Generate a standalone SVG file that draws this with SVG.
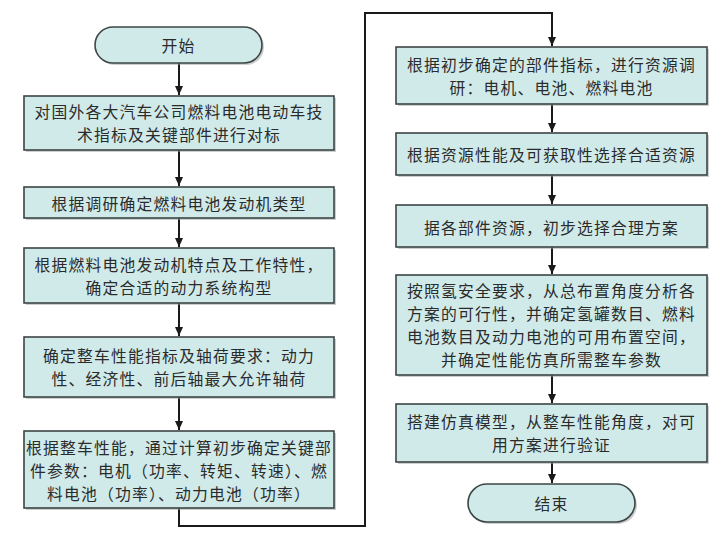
<svg xmlns="http://www.w3.org/2000/svg" width="720" height="538" viewBox="0 0 720 538">
<defs>
<marker id="ah" markerWidth="10" markerHeight="10" refX="9" refY="5" orient="auto" markerUnits="userSpaceOnUse">
<path d="M0,1 L9,5 L0,9 Z" fill="#1a1a1a"/>
</marker>
<style>
.box{fill:#d0eaea;stroke:#3d4545;stroke-width:1.6}
.sh{fill:#9aa0a0;opacity:0.5}
.t{font-family:"Noto Sans CJK SC","Noto Sans",sans-serif;font-size:15.8px;fill:#2b2b2b;text-anchor:middle;dominant-baseline:central;letter-spacing:1.2px}
.c{fill:none;stroke:#1a1a1a;stroke-width:2}
</style>
</defs>
<rect width="720" height="538" fill="#ffffff"/>
<g id="connectors">
<line class="c" x1="179" y1="63" x2="179" y2="95" marker-end="url(#ah)"/>
<line class="c" x1="179" y1="150" x2="179" y2="186" marker-end="url(#ah)"/>
<line class="c" x1="179" y1="218" x2="179" y2="247" marker-end="url(#ah)"/>
<line class="c" x1="179" y1="303" x2="179" y2="336" marker-end="url(#ah)"/>
<line class="c" x1="179" y1="397" x2="179" y2="430" marker-end="url(#ah)"/>
<polyline class="c" points="179,508 179,526 365,526 365,13 552,13 552,46" marker-end="url(#ah)"/>
<line class="c" x1="552" y1="104" x2="552" y2="132" marker-end="url(#ah)"/>
<line class="c" x1="552" y1="175" x2="552" y2="204" marker-end="url(#ah)"/>
<line class="c" x1="552" y1="247" x2="552" y2="274" marker-end="url(#ah)"/>
<line class="c" x1="552" y1="375" x2="552" y2="403" marker-end="url(#ah)"/>
<line class="c" x1="552" y1="462" x2="552" y2="483" marker-end="url(#ah)"/>
</g>
<g id="start">
<rect class="sh" x="97" y="29" width="167" height="36" rx="18"/>
<rect class="box" x="95" y="27" width="167" height="36" rx="18"/>
<text class="t" x="178.5" y="45">开始</text>
</g>
<g id="n1">
<rect class="sh" x="26" y="98" width="310" height="54"/>
<rect class="box" x="24" y="96" width="310" height="54"/>
<text class="t" x="179" y="111.5">对国外各大汽车公司燃料电池电动车技</text>
<text class="t" x="179" y="134.5">术指标及关键部件进行对标</text>
</g>
<g id="n2">
<rect class="sh" x="26" y="189" width="310" height="31"/>
<rect class="box" x="24" y="187" width="310" height="31"/>
<text class="t" x="179" y="203">根据调研确定燃料电池发动机类型</text>
</g>
<g id="n3">
<rect class="sh" x="26" y="250" width="310" height="55"/>
<rect class="box" x="24" y="248" width="310" height="55"/>
<text class="t" x="179" y="264">根据燃料电池发动机特点及工作特性，</text>
<text class="t" x="179" y="287">确定合适的动力系统构型</text>
</g>
<g id="n4">
<rect class="sh" x="26" y="339" width="310" height="60"/>
<rect class="box" x="24" y="337" width="310" height="60"/>
<text class="t" x="179" y="355.5">确定整车性能指标及轴荷要求：动力</text>
<text class="t" x="179" y="378.5">性、经济性、前后轴最大允许轴荷</text>
</g>
<g id="n5">
<rect class="sh" x="26" y="433" width="310" height="77"/>
<rect class="box" x="24" y="431" width="310" height="77"/>
<text class="t" x="179" y="447">根据整车性能，通过计算初步确定关键部</text>
<text class="t" x="179" y="470">件参数：电机（功率、转矩、转速）、燃</text>
<text class="t" x="179" y="493">料电池（功率）、动力电池（功率）</text>
</g>
<g id="r1">
<rect class="sh" x="398" y="49" width="311" height="57"/>
<rect class="box" x="396" y="47" width="311" height="57"/>
<text class="t" x="551.5" y="64">根据初步确定的部件指标，进行资源调</text>
<text class="t" x="551.5" y="87">研：电机、电池、燃料电池</text>
</g>
<g id="r2">
<rect class="sh" x="398" y="135" width="311" height="42"/>
<rect class="box" x="396" y="133" width="311" height="42"/>
<text class="t" x="551.5" y="154">根据资源性能及可获取性选择合适资源</text>
</g>
<g id="r3">
<rect class="sh" x="398" y="207" width="311" height="42"/>
<rect class="box" x="396" y="205" width="311" height="42"/>
<text class="t" x="551.5" y="227">据各部件资源，初步选择合理方案</text>
</g>
<g id="r4">
<rect class="sh" x="398" y="277" width="311" height="100"/>
<rect class="box" x="396" y="275" width="311" height="100"/>
<text class="t" x="551.5" y="290.5">按照氢安全要求，从总布置角度分析各</text>
<text class="t" x="551.5" y="313.5">方案的可行性，并确定氢罐数目、燃料</text>
<text class="t" x="551.5" y="336.5">电池数目及动力电池的可用布置空间，</text>
<text class="t" x="551.5" y="359.5">并确定性能仿真所需整车参数</text>
</g>
<g id="r5">
<rect class="sh" x="398" y="406" width="311" height="58"/>
<rect class="box" x="396" y="404" width="311" height="58"/>
<text class="t" x="551.5" y="421.5">搭建仿真模型，从整车性能角度，对可</text>
<text class="t" x="551.5" y="444.5">用方案进行验证</text>
</g>
<g id="end">
<rect class="sh" x="470" y="486" width="167" height="38" rx="19"/>
<rect class="box" x="468" y="484" width="167" height="38" rx="19"/>
<text class="t" x="551.5" y="503">结束</text>
</g>
</svg>
